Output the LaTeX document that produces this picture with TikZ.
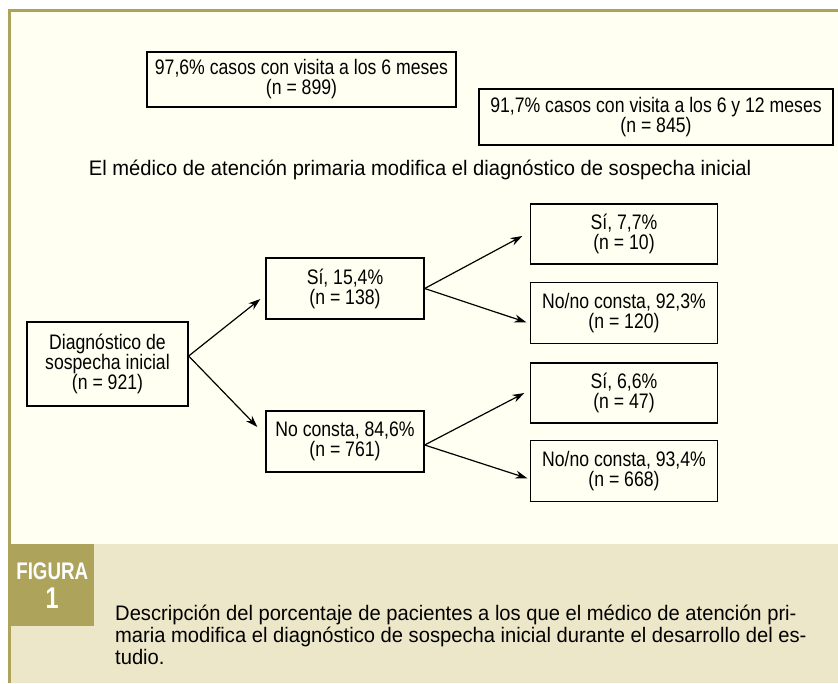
\documentclass[tikz,border=0pt]{standalone}
\usepackage{fontspec}
\setmainfont{Liberation Sans}[FakeStretch=0.84]
\newfontfamily\widefont{Liberation Sans}[FakeStretch=0.96]
\newfontfamily\headfont{Liberation Sans}[FakeStretch=0.78]
\usetikzlibrary{arrows.meta, positioning}
\definecolor{oliva}{HTML}{ADA35A}
\definecolor{crema}{HTML}{FFFFF2}
\definecolor{arena}{HTML}{EDE7C9}
\newcommand\boxfont{\fontsize{21}{20}\selectfont\lineskiplimit=-10pt\relax}
\newcommand\capfont{\widefont\fontsize{21}{22}\selectfont\lineskiplimit=-10pt\relax}

\begin{document}
\begin{tikzpicture}[x=1pt, y=-1pt,
  box/.style={draw, line width=1.3pt, align=center, inner sep=0pt, font=\boxfont},
  note/.style={font=\widefont\fontsize{21}{22}\selectfont},
  link/.style={-{Stealth[length=12pt, width=8pt]}, line width=1.2pt},
]
\useasboundingbox (0,0) rectangle (838,683);

% frame and caption band
\fill[white] (0,0) rectangle (838,683);
\fill[crema] (8,9) rectangle (838,683);
\fill[arena] (10,544) rectangle (838,683);
\draw[oliva, line width=3pt] (838,10.5) -- (9.5,10.5) -- (9.5,683);

% follow-up boxes
\node[box, minimum width=309pt, minimum height=55pt] (vis6) at (301.5,79.5)
  {97,6\% casos con visita a los 6 meses\\(n = 899)};
\node[box, minimum width=354pt, minimum height=56pt] (vis12) at (656,117)
  {91,7\% casos con visita a los 6 y 12 meses\\(n = 845)};
\node[note] (title) at (420,170)
  {El médico de atención primaria modifica el diagnóstico de sospecha inicial};

% tree
\node[box, minimum width=161pt, minimum height=84pt] (root) at (107.5,364)
  {Diagnóstico de\\sospecha inicial\\(n = 921)};
\node[box, minimum width=158pt, minimum height=61pt] (si1) at (345,288.5)
  {Sí, 15,4\%\\(n = 138)};
\node[box, minimum width=158pt, minimum height=61pt] (no1) at (345,441.5)
  {No consta, 84,6\%\\(n = 761)};

\node[box, minimum width=187pt, minimum height=60pt] (si11) at (624,234)
  {Sí, 7,7\%\\(n = 10)};
\node[box, minimum width=187pt, minimum height=61pt, below=17pt of si11] (no12)
  {No/no consta, 92,3\%\\(n = 120)};
\node[box, minimum width=187pt, minimum height=60pt] (si21) at (624,393)
  {Sí, 6,6\%\\(n = 47)};
\node[box, minimum width=187pt, minimum height=61pt, below=16pt of si21] (no22)
  {No/no consta, 93,4\%\\(n = 668)};

\draw[link] ([yshift=8pt]root.east) -- ([shift={(-5pt,-10.5pt)}]si1.west);
\draw[link] ([yshift=8pt]root.east) -- ([shift={(-8pt,14.5pt)}]no1.west);
\draw[link] (si1.east) -- ([shift={(-7.5pt,-2pt)}]si11.west);
\draw[link] (si1.east) -- ([shift={(-3.5pt,-9.5pt)}]no12.west);
\draw[link] ([yshift=-3.5pt]no1.east) -- ([shift={(-5.5pt,0pt)}]si21.west);
\draw[link] ([yshift=-3.5pt]no1.east) -- ([shift={(-2.5pt,-7.5pt)}]no22.west);

% caption
\node[fill=oliva, text=white, anchor=north west, minimum width=84pt, minimum height=82pt,
  inner sep=0pt, align=center, font=\headfont\bfseries\fontsize{24}{29}\selectfont] (head) at (10,544)
  {FIGURA\\{\fontsize{30}{30}\selectfont 1}};
\node[anchor=north west, align=left, inner sep=0pt, font=\capfont] (caption) at (115,605)
  {Descripción del porcentaje de pacientes a los que el médico de atención pri-\\
   maria modifica el diagnóstico de sospecha inicial durante el desarrollo del es-\\
   tudio.};
\end{tikzpicture}
\end{document}
